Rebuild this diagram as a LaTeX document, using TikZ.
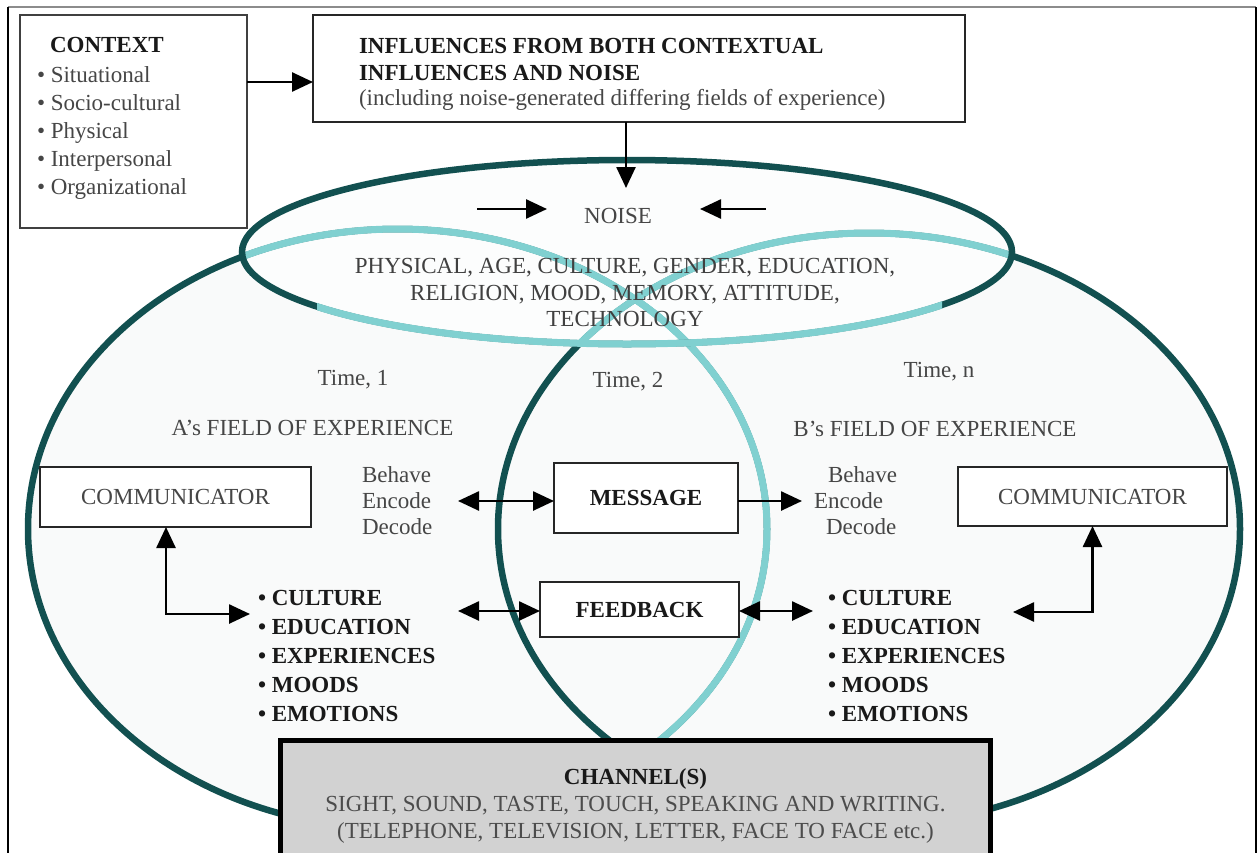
\documentclass[tikz,border=0pt]{standalone}
\usepackage{fontspec}
\setmainfont{Liberation Serif}
\usetikzlibrary{arrows.meta}
\definecolor{tealdark}{RGB}{18,80,80}
\definecolor{tealpale}{RGB}{128,208,208}
\definecolor{fieldfill}{RGB}{249,250,250}
\definecolor{noisefill}{RGB}{252,253,253}
\definecolor{textgray}{RGB}{70,70,70}
\definecolor{chanfill}{RGB}{210,210,210}
\begin{document}
\begin{tikzpicture}[x=1pt,y=-1pt,
  txt/.style={font=\fontsize{23}{26}\selectfont, inner sep=0pt, outer sep=0pt, text=textgray},
  btxt/.style={font=\fontsize{23}{26}\selectfont\bfseries, inner sep=0pt, outer sep=0pt, text=black!90},
  boxd/.style={draw=black!85, line width=2.4pt, inner sep=0pt, outer sep=0pt, fill=white},
  arr/.style={line width=2.6pt, -{Triangle[length=21pt,width=19pt]}},
  darr/.style={line width=2.6pt, {Triangle[length=21pt,width=19pt]}-{Triangle[length=21pt,width=19pt]}},
  fieldA/.style={insert path={(397.5,529) ellipse [x radius=369.5, y radius=300]}},
  fieldB/.style={insert path={(869,529) ellipse [x radius=371, y radius=296]}},
  noiseE/.style={insert path={(627,252) ellipse [x radius=385, y radius=92]}},
]
\useasboundingbox (0,0) rectangle (1259,852);
\fill[white] (0,0) rectangle (1259,852);

% page frame
\draw[black!45, line width=2pt] (8,7) -- (1256,7);
\draw[black, line width=2pt] (8,7) -- (8,860);
\draw[black, line width=2pt] (1256,7) -- (1256,860);

% fields of experience and the noise ellipse
\fill[fieldfill, fieldA];
\fill[fieldfill, fieldB];
\fill[noisefill, noiseE];
\draw[tealdark, line width=6.5pt, fieldA];
\draw[tealdark, line width=6.5pt, fieldB];
\begin{scope}
  \clip[fieldB];
  \draw[tealpale, line width=7pt, fieldA];
\end{scope}
\begin{scope}
  \clip[noiseE];
  \draw[tealpale, line width=7pt, fieldA];
  \draw[tealpale, line width=7pt, fieldB];
\end{scope}
\draw[tealdark, line width=6.5pt, noiseE];
\begin{scope}
  \clip (317,252) rectangle (942,370);
  \draw[tealpale, line width=7pt, noiseE];
\end{scope}

% context box
\node[boxd, draw=black!75, anchor=north west, minimum width=227, minimum height=213] (ctx) at (20,15) {};
\node[btxt, anchor=base west] (ctxt) at (50,52) {CONTEXT};
\node[txt, anchor=base west] (c1) at (37,82) {\textbullet\ Situational};
\node[txt, anchor=base west] (c2) at (37,110) {\textbullet\ Socio-cultural};
\node[txt, anchor=base west] (c3) at (37,138) {\textbullet\ Physical};
\node[txt, anchor=base west] (c4) at (37,166) {\textbullet\ Interpersonal};
\node[txt, anchor=base west] (c5) at (37,194) {\textbullet\ Organizational};

% influences box
\node[boxd, anchor=north west, minimum width=652, minimum height=107] (inf) at (313,15) {};
\node[btxt, anchor=base west] (i1) at (359,53) {INFLUENCES FROM BOTH CONTEXTUAL};
\node[btxt, anchor=base west] (i2) at (359,80) {INFLUENCES AND NOISE};
\node[txt, anchor=base west] (i3) at (359,105) {(including noise-generated differing fields of experience)};
\path (inf.west) ++(0,13.5) coordinate (infin);
\draw[arr] (ctx.east |- infin) -- (infin);
\coordinate (ntip) at (626,188);
\draw[arr] (inf.south -| ntip) -- (ntip);

% noise
\node[txt, anchor=base] (noise) at (618,223) {NOISE};
\coordinate (nla) at (477,209);
\coordinate (nlb) at (547,209);
\coordinate (nra) at (766,209);
\coordinate (nrb) at (700,209);
\draw[arr] (nla) -- (nlb);
\draw[arr] (nra) -- (nrb);
\node[txt, text=black!75, anchor=base] (n1) at (625,273) {PHYSICAL, AGE, CULTURE, GENDER, EDUCATION,};
\node[txt, text=black!75, anchor=base] (n2) at (625,300) {RELIGION, MOOD, MEMORY, ATTITUDE,};
\node[txt, text=black!75, anchor=base] (n3) at (625,326) {TECHNOLOGY};

% time labels and fields
\node[txt, anchor=base] (t1) at (353,385) {Time, 1};
\node[txt, anchor=base] (t2) at (628,387) {Time, 2};
\node[txt, anchor=base] (tn) at (939,377) {Time, n};
\node[txt, anchor=base] (fa) at (312.5,435) {A's FIELD OF EXPERIENCE};
\node[txt, anchor=base] (fb) at (935,436) {B's FIELD OF EXPERIENCE};

% communicators and the message
\node[boxd, minimum width=271, minimum height=60, txt, draw=black!85] (lcomm) at (175.5,497) {COMMUNICATOR};
\node[boxd, minimum width=269, minimum height=59, txt, draw=black!85] (rcomm) at (1092.5,496.5) {COMMUNICATOR};
\node[boxd, minimum width=184, minimum height=70, btxt, draw=black!85] (msg) at (646,498) {MESSAGE};
\node[boxd, minimum width=199, minimum height=55, btxt, draw=black!85] (fbk) at (639.5,609.5) {FEEDBACK};

\node[txt, anchor=base west] (lb1) at (362,482) {Behave};
\node[txt, anchor=base west] (lb2) at (362,508) {Encode};
\node[txt, anchor=base west] (lb3) at (362,534) {Decode};
\node[txt, anchor=base west] (rb1) at (828,482) {Behave};
\node[txt, anchor=base west] (rb2) at (814,508) {Encode};
\node[txt, anchor=base west] (rb3) at (826,534) {Decode};

\coordinate (lbin) at (458,501);
\coordinate (rbin) at (802,501);
\draw[darr] (lbin) -- (lbin -| msg.west);
\draw[arr] (msg.east |- rbin) -- (rbin);

% personal factors
\foreach \t [count=\k] in {CULTURE,EDUCATION,EXPERIENCES,MOODS,EMOTIONS}{
  \node[btxt, anchor=base west] (la\k) at (258,{576+29*\k}) {\textbullet\ \t};
  \node[btxt, anchor=base west] (ra\k) at (828,{576+29*\k}) {\textbullet\ \t};
}
\coordinate (lfin) at (458,611);
\coordinate (rfin) at (813,611);
\draw[darr] (lfin) -- (lfin -| fbk.west);
\draw[darr] (fbk.east |- rfin) -- (rfin);

\coordinate (ltip) at (250,614);
\coordinate (rtip) at (1013,612);
\draw[darr] ([xshift=-9.5pt]lcomm.south) |- (ltip);
\draw[darr] (rcomm.south) |- (rtip);

% channel
\node[draw=black, line width=5pt, fill=chanfill, inner sep=0pt, outer sep=0pt, anchor=north west,
      minimum width=710, minimum height=140] (chan) at (280.5,740.5) {};
\node[btxt, anchor=base] (ch1) at (635.5,784) {CHANNEL(S)};
\node[txt, text=black!70, anchor=base] (ch2) at (635.5,811) {SIGHT, SOUND, TASTE, TOUCH, SPEAKING AND WRITING.};
\node[txt, text=black!70, anchor=base] (ch3) at (635.5,838) {(TELEPHONE, TELEVISION, LETTER, FACE TO FACE etc.)};
\end{tikzpicture}
\end{document}
